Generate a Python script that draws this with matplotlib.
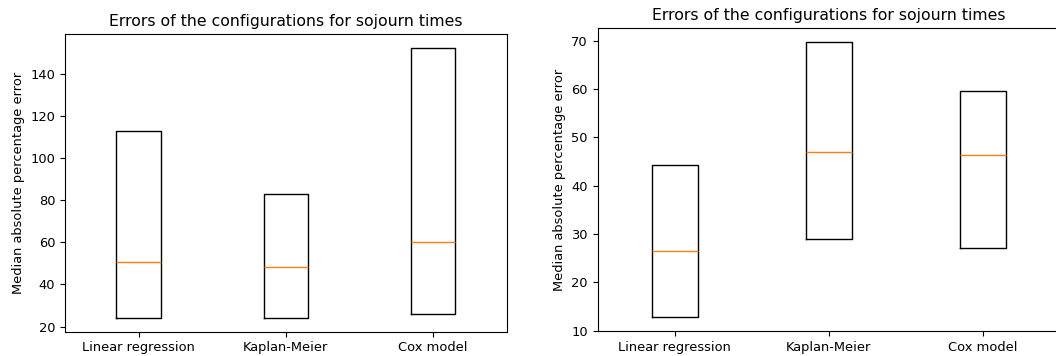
import matplotlib
matplotlib.use("Agg")
import matplotlib.pyplot as plt

models = ["Linear regression", "Kaplan-Meier", "Cox model"]
title = "Errors of the configurations for sojourn times"
ylabel = "Median absolute percentage error"

# first configuration set
left_low = [24.0, 24.0, 26.2]
left_median = [50.5, 48.5, 60.2]
left_high = [112.8, 83.0, 152.3]

# second configuration set
right_low = [12.8, 28.9, 27.2]
right_median = [26.6, 46.9, 46.3]
right_high = [44.3, 69.7, 59.5]

plt.rcParams["font.size"] = 9.4
plt.rcParams["axes.titlesize"] = 11.3

W, H = 1056, 356
fig = plt.figure(figsize=(W / 100, H / 100), dpi=100)


def make_stats(low, med, high):
    return [
        dict(label=lab, q1=lo, med=m, q3=hi, whislo=lo, whishi=hi, fliers=[])
        for lab, lo, m, hi in zip(models, low, med, high)
    ]


def draw(ax, low, med, high):
    ax.bxp(make_stats(low, med, high), showcaps=False, showfliers=False,
           boxprops=dict(color="black"),
           medianprops=dict(color="#ff7f0e"))
    ax.set_title(title)
    ax.set_ylabel(ylabel)


ax1 = fig.add_axes([64.9 / W, (H - 331.7) / H, (506.6 - 64.9) / W, (331.7 - 34.3) / H])
draw(ax1, left_low, left_median, left_high)

ax2 = fig.add_axes([597.7 / W, (H - 331.0) / H, (1059.7 - 597.7) / W, (331.0 - 28.3) / H])
draw(ax2, right_low, right_median, right_high)

fig.savefig("out.png", dpi=100)
